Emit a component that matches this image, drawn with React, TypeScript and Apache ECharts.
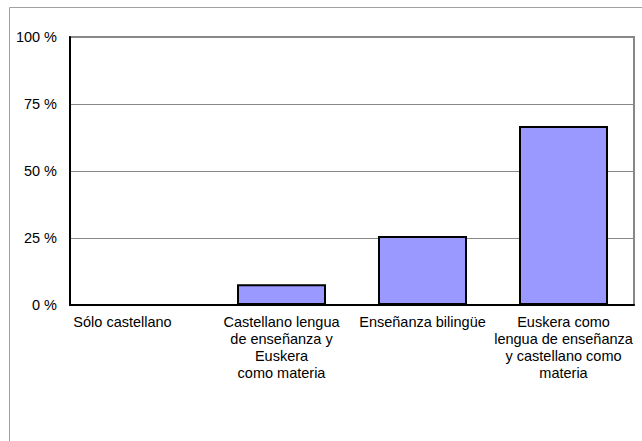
import React, { useEffect, useRef } from "react";
import * as echarts from "echarts";

const categories = [
  "Sólo castellano",
  "Castellano lengua\nde enseñanza y\nEuskera\ncomo materia",
  "Enseñanza bilingüe",
  "Euskera como\nlengua de enseñanza\ny castellano como\nmateria",
];
const values = [0, 7.7, 25.7, 66.8];
const yTicks = [0, 25, 50, 75, 100];

export default function App() {
  const ref = useRef<HTMLDivElement>(null);
  useEffect(() => {
    document.body.style.margin = "0";
    const chart = echarts.init(ref.current!, null, { renderer: "svg" });
    const font = "Arial, 'Liberation Sans', sans-serif";
    chart.setOption({
      animation: false,
      backgroundColor: "#ffffff",
      grid: {
        left: 70,
        right: 8,
        top: 37,
        bottom: 136,
        show: true,
        borderColor: "#888888",
        borderWidth: 2,
        backgroundColor: "transparent",
      },
      graphic: [
        {
          type: "rect",
          shape: { x: 9.5, y: 7.5, width: 700, height: 500 },
          style: { fill: "none", stroke: "#a0a0a0", lineWidth: 1 },
          silent: true,
          z: -1,
        },
      ],
      xAxis: {
        type: "category",
        data: categories.map((c, i) =>
          i === 0 ? { value: c, textStyle: { padding: [0, 36, 0, 0] } } : c
        ),
        axisLine: { show: true, lineStyle: { color: "#000000", width: 2 } },
        axisTick: { show: false },
        axisLabel: {
          interval: 0,
          color: "#000000",
          fontSize: 14.5,
          fontFamily: font,
          lineHeight: 17,
          margin: 8,
          align: "center",
        },
      },
      yAxis: {
        type: "value",
        min: yTicks[0],
        max: yTicks[yTicks.length - 1],
        interval: 25,
        axisLine: { show: true, lineStyle: { color: "#000000", width: 2 } },
        axisTick: { show: false },
        splitLine: { show: true, lineStyle: { color: "#888888", width: 1 } },
        axisLabel: {
          formatter: "{value} %",
          color: "#000000",
          fontSize: 14.5,
          fontFamily: font,
          margin: 13,
        },
      },
      series: [
        {
          type: "bar",
          data: values,
          barWidth: 89,
          itemStyle: { color: "#9999ff", borderColor: "#000000", borderWidth: 2 },
        },
      ],
    });
    return () => chart.dispose();
  }, []);
  return <div ref={ref} style={{ width: 642, height: 441 }} />;
}
